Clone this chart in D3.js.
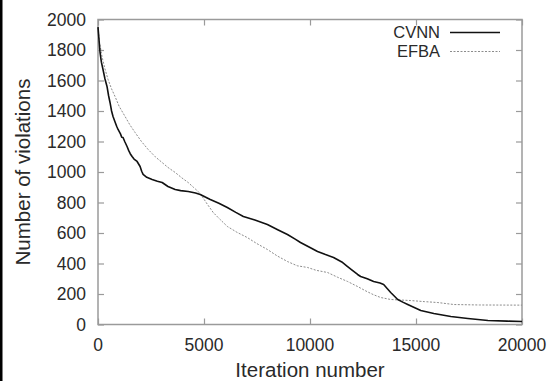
<!DOCTYPE html>
<html>
<head>
<meta charset="utf-8">
<script src="https://cdn.jsdelivr.net/npm/d3@7"></script>
<style>
  html, body { margin: 0; padding: 0; background: #fff; }
  svg { display: block; font-family: "Liberation Sans", Arial, sans-serif; }
</style>
</head>
<body>
<svg id="chart" width="555" height="381"></svg>
<script>
// ---- data ----
const seriesNames = ["CVNN", "EFBA"];
const cvnn = [[0,1950],[40,1880],[95,1784],[160,1720],[236,1672],[330,1610],[425,1561],[500,1500],[567,1456],[640,1400],[709,1364],[800,1330],[880,1300],[946,1279],[1060,1250],[1120,1228],[1182,1226],[1260,1200],[1371,1167],[1450,1140],[1520,1120],[1608,1102],[1700,1085],[1844,1069],[1986,1036],[2060,1005],[2128,984],[2300,965],[2553,951],[2800,940],[3026,931],[3300,905],[3640,885],[3900,878],[4255,872],[4600,862],[4823,852],[5296,820],[5700,795],[6100,767],[6500,735],[6856,708],[7400,685],[7990,656],[8500,620],[8936,590],[9300,560],[9551,538],[10000,505],[10355,479],[10700,460],[11111,439],[11500,410],[11773,380],[12000,355],[12246,328],[12388,315],[12700,300],[13002,282],[13300,272],[13475,262],[13650,235],[13806,210],[14137,164],[14400,145],[14610,131],[15225,92],[15840,72],[16643,52],[17447,39],[18392,26],[19300,22],[20000,20]];
const efba = [[0,1950],[60,1860],[189,1757],[320,1680],[473,1607],[640,1545],[804,1495],[1000,1430],[1277,1364],[1500,1310],[1749,1259],[2050,1200],[2364,1148],[2700,1100],[3026,1062],[3300,1030],[3640,997],[3950,962],[4255,931],[4500,900],[4728,872],[4917,839],[5150,790],[5437,734],[5750,690],[6100,643],[6550,605],[7045,570],[7500,530],[7990,492],[8450,450],[8936,413],[9400,385],[9882,374],[10300,355],[10827,341],[11300,310],[11773,282],[12246,249],[12700,215],[13000,195],[13333,177],[13806,164],[14752,157],[15400,150],[16030,144],[16785,131],[18000,128],[20000,127]];
const xTicks = [0, 5000, 10000, 15000, 20000];
const yTicks = [0, 200, 400, 600, 800, 1000, 1200, 1400, 1600, 1800, 2000];
const xTitle = "Iteration number";
const yTitle = "Number of violations";

// ---- layout ----
const L = 98, R = 522, T = 19.5, B = 324.5;
const svg = d3.select("#chart");

const x = d3.scaleLinear().domain([0, 20000]).range([L, R]);
const y = d3.scaleLinear().domain([0, 2000]).range([B, T]);

// left black edge of the scanned figure
svg.append("rect").attr("x", 0).attr("y", 0).attr("width", 2.5).attr("height", 381).attr("fill", "#000");

const axisColor = "#9a9a9a";
const textColor = "#2a2a2a";
const tickLen = 6;

// axes (inner ticks)
const gL = svg.append("g").attr("transform", `translate(${L},0)`)
  .call(d3.axisRight(y).tickValues(yTicks).tickSize(tickLen).tickFormat(""));
const gR = svg.append("g").attr("transform", `translate(${R},0)`)
  .call(d3.axisLeft(y).tickValues(yTicks).tickSize(tickLen).tickFormat(""));
const gB = svg.append("g").attr("transform", `translate(0,${B})`)
  .call(d3.axisTop(x).tickValues(xTicks).tickSize(tickLen).tickFormat(""));
const gT = svg.append("g").attr("transform", `translate(0,${T})`)
  .call(d3.axisBottom(x).tickValues(xTicks).tickSize(tickLen).tickFormat(""));
[gL, gR, gB, gT].forEach(g => {
  g.select(".domain").remove();
  g.selectAll("line").attr("stroke", axisColor).attr("stroke-width", 1.2);
});

// frame
svg.append("rect").attr("x", L).attr("y", T).attr("width", R - L).attr("height", B - T)
  .attr("fill", "none").attr("stroke", axisColor).attr("stroke-width", 1.5);

// tick labels
svg.append("g").selectAll("text").data(yTicks).join("text")
  .attr("x", 86).attr("y", d => y(d)).attr("dy", "0.36em")
  .attr("text-anchor", "end").attr("font-size", 17.5).attr("fill", textColor)
  .text(d => d);
svg.append("g").selectAll("text").data(xTicks).join("text")
  .attr("x", d => x(d)).attr("y", 351)
  .attr("text-anchor", "middle").attr("font-size", 17.5).attr("fill", textColor)
  .text(d => d);

// axis titles
svg.append("text").attr("x", (L + R) / 2).attr("y", 376.5)
  .attr("text-anchor", "middle").attr("font-size", 20.5).attr("fill", textColor).text(xTitle);
svg.append("text").attr("transform", `translate(30,${(T + B) / 2}) rotate(-90)`)
  .attr("text-anchor", "middle").attr("font-size", 20.5).attr("fill", textColor).text(yTitle);

// lines
const line = d3.line().x(d => x(d[0])).y(d => y(d[1]));
svg.append("path").datum(efba).attr("d", line).attr("fill", "none")
  .attr("stroke", "#8c8c8c").attr("stroke-width", 1).attr("stroke-dasharray", "2,1.5");
svg.append("path").datum(cvnn).attr("d", line).attr("fill", "none")
  .attr("stroke", "#111").attr("stroke-width", 1.6).attr("stroke-linejoin", "round");

// legend
const legend = svg.append("g");
const legY = [32.5, 51.5];
legend.selectAll("text").data(seriesNames).join("text")
  .attr("x", 440).attr("y", (d, i) => legY[i]).attr("dy", "0.36em")
  .attr("text-anchor", "end").attr("font-size", 16.5).attr("fill", textColor).text(d => d);
legend.append("line").attr("x1", 450).attr("x2", 500).attr("y1", legY[0]).attr("y2", legY[0])
  .attr("stroke", "#111").attr("stroke-width", 1.6);
legend.append("line").attr("x1", 450).attr("x2", 500).attr("y1", legY[1]).attr("y2", legY[1])
  .attr("stroke", "#8c8c8c").attr("stroke-width", 1).attr("stroke-dasharray", "2,1.5");
</script>
</body>
</html>
